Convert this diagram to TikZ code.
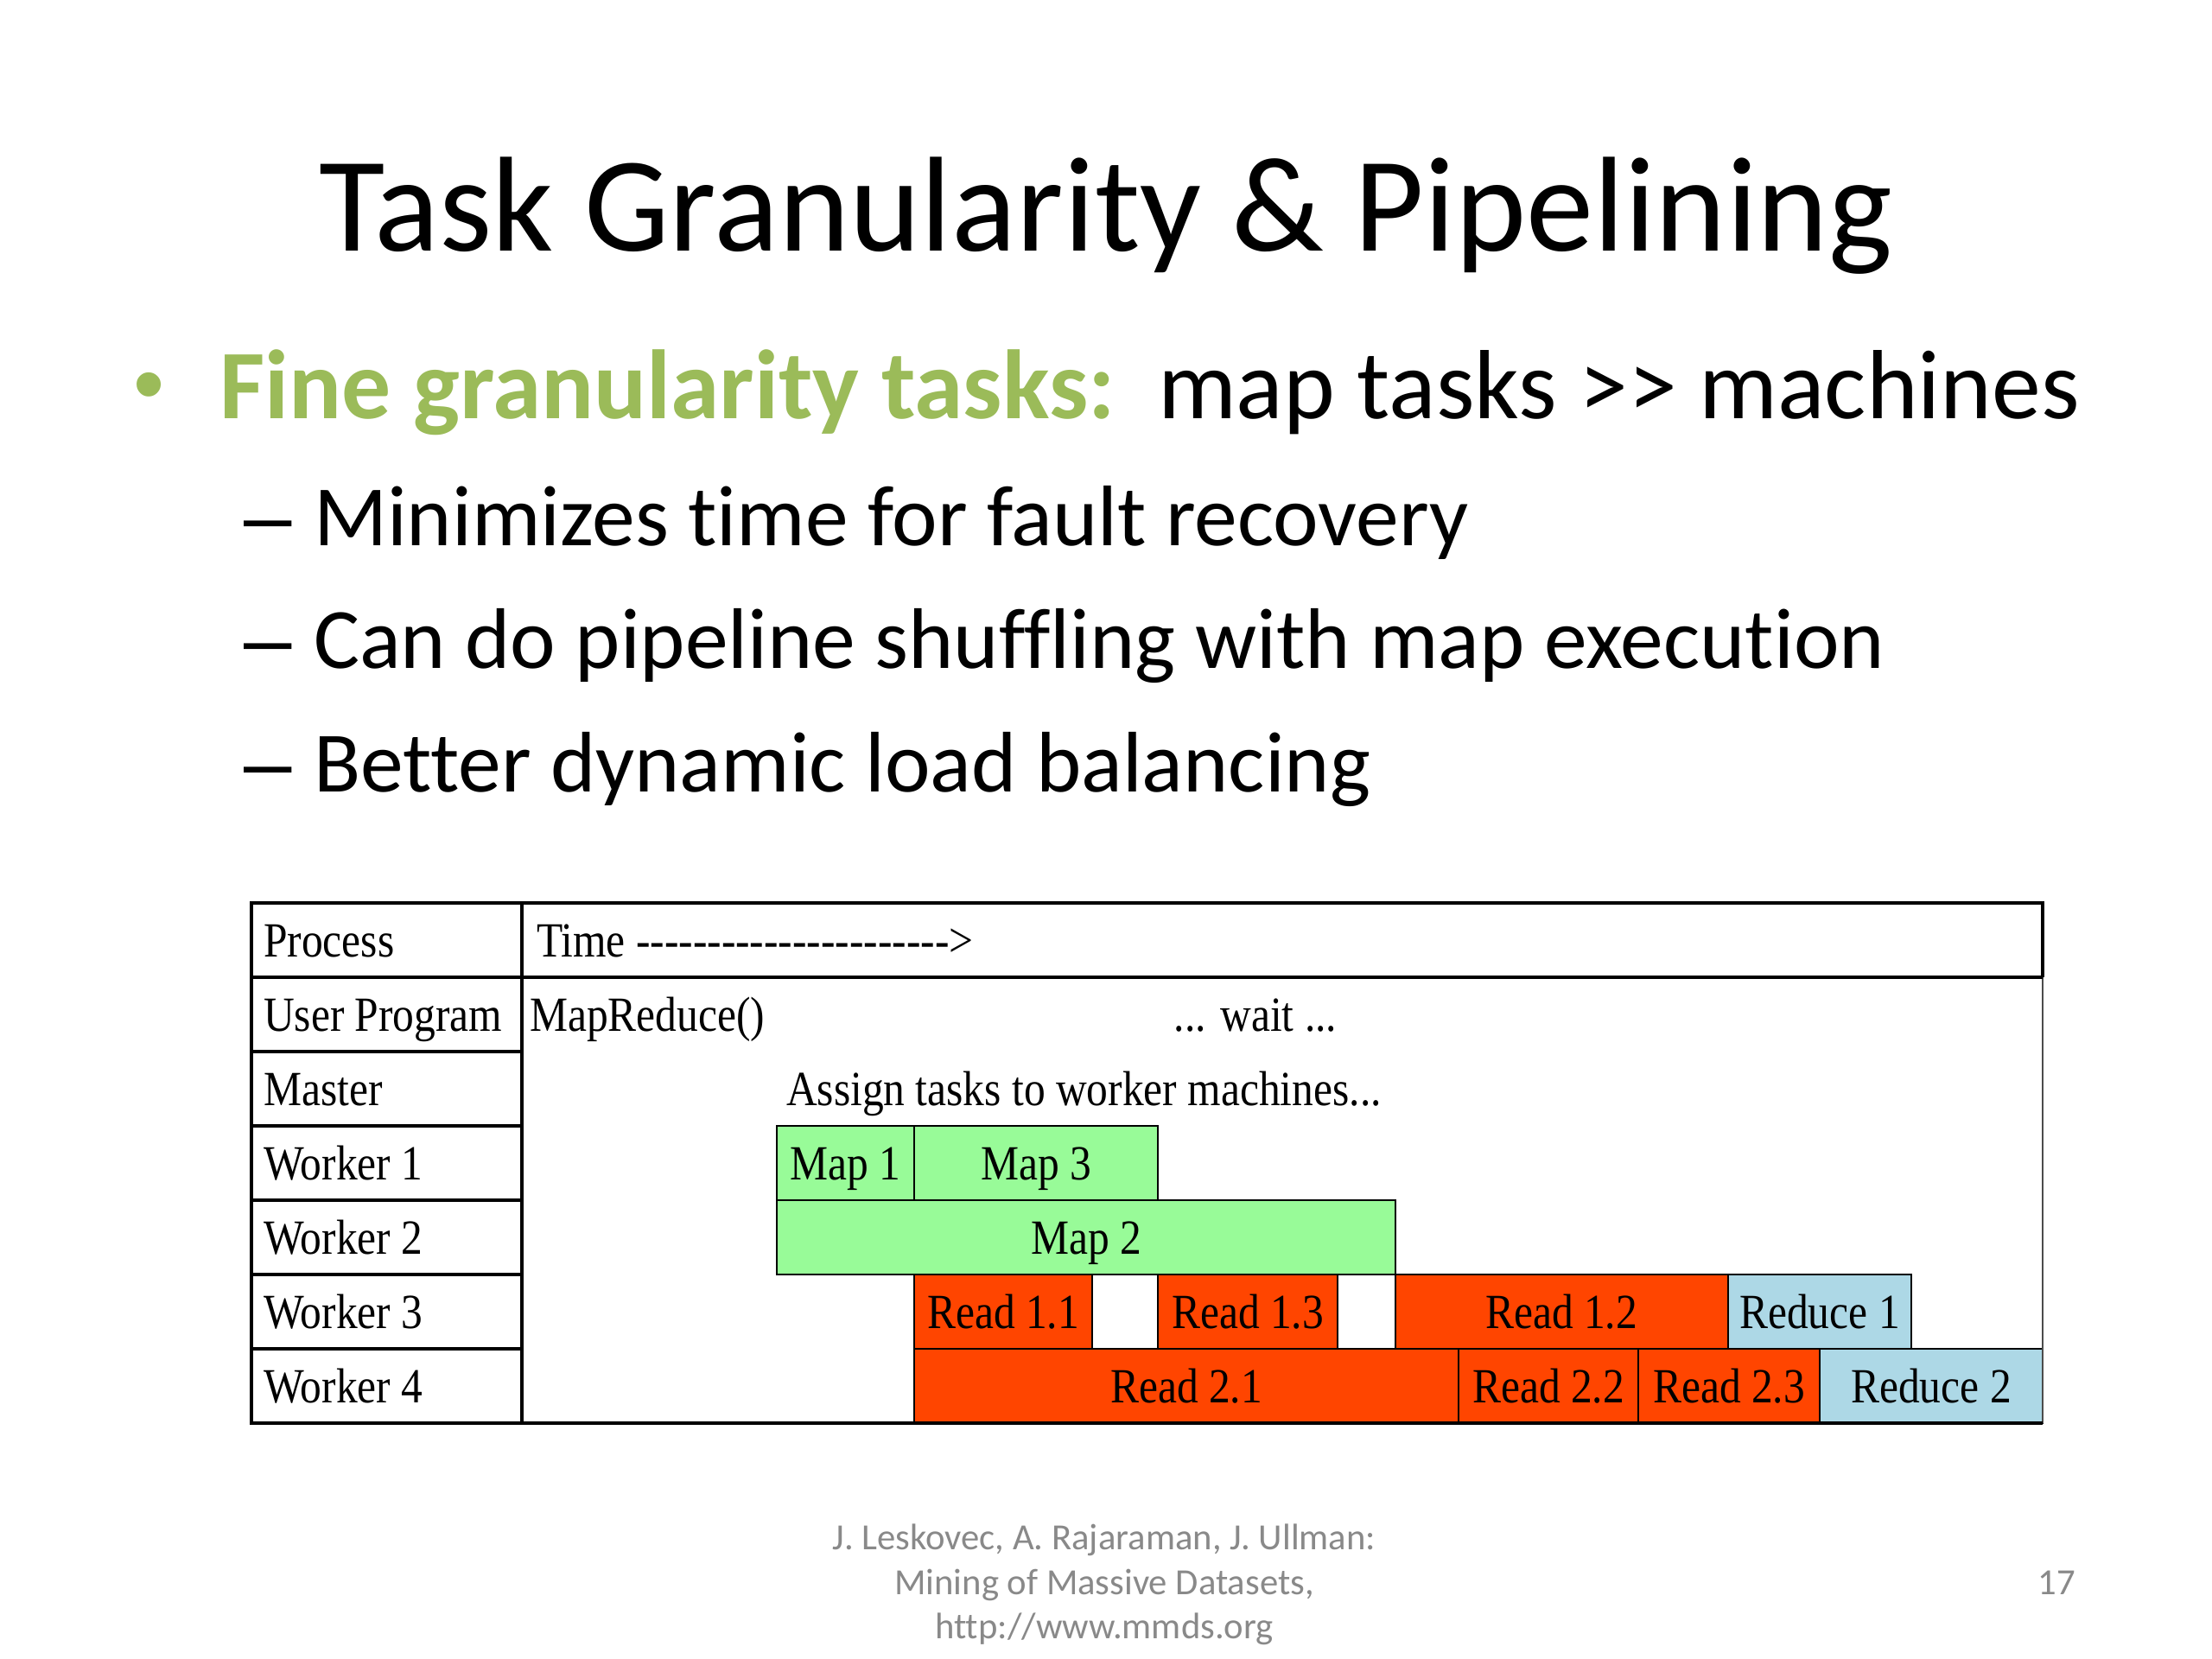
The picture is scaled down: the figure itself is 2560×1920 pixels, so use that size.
\documentclass[tikz,border=0pt]{standalone}
\usepackage{fontspec}
\setmainfont{Carlito}[Ligatures={TeXOff,NoCommon}]
\newfontfamily\markfont{Liberation Sans}
\newfontfamily\tablefont{Liberation Serif}[FakeStretch=0.87,Ligatures=TeXOff]

\definecolor{fineGreen}{RGB}{155,187,89}
\definecolor{footGray}{RGB}{137,137,137}
\definecolor{mapGreen}{RGB}{152,251,152}
\definecolor{readRed}{RGB}{255,69,0}
\definecolor{reduceBlue}{RGB}{173,216,230}

\tikzset{
  slidetext/.style={anchor=base west, inner sep=0pt},
  cell/.style={anchor=base west, inner sep=0pt, font=\tablefont\fontsize{16}{19}\selectfont},
  tasktext/.style={anchor=base, inner sep=0pt, font=\tablefont\fontsize{16}{19}\selectfont},
  footer/.style={anchor=base, inner sep=0pt, text=footGray, font=\fontsize{12}{14}\selectfont},
}

\begin{document}
\begin{tikzpicture}[x=0.28125pt,y=-0.28125pt, line width=0.6pt]
\useasboundingbox[fill=white] (0,0) rectangle (2560,1920);

% =========================
% title and bullets
% =========================
\node[anchor=base, inner sep=0pt, font=\fontsize{44}{53}\selectfont] (title) at (1280,291) {Task Granularity \& Pipelining};

\node[anchor=base, inner sep=0pt, text=fineGreen, font=\markfont\fontsize{29}{34}\selectfont] (dot) at (173,480) {•};
\node[slidetext, text=fineGreen, font=\fontsize{32}{38}\selectfont\bfseries] (fine) at (253,485) {Fine granularity tasks:};
\node[slidetext, font=\fontsize{32}{38}\selectfont] (ratio) at (1339,485) {map tasks >> machines};

\node[slidetext, font=\markfont\fontsize{28}{34}\selectfont] (dash1) at (281,632) {–};
\node[slidetext, font=\fontsize{28}{34}\selectfont] (sub1) at (362,632) {Minimizes time for fault recovery};
\node[slidetext, font=\markfont\fontsize{28}{34}\selectfont] (dash2) at (281,774) {–};
\node[slidetext, font=\fontsize{28}{34}\selectfont] (sub2) at (362,774) {Can do pipeline shuffling with map execution};
\node[slidetext, font=\markfont\fontsize{28}{34}\selectfont] (dash3) at (281,916) {–};
\node[slidetext, font=\fontsize{28}{34}\selectfont] (sub3) at (362,916) {Better dynamic load balancing};

% =========================
% timeline table
% =========================
% map tasks
\draw[fill=mapGreen] (899,1303) rectangle (1058,1389);
\node[tasktext] (map1) at (978,1365) {Map 1};
\draw[fill=mapGreen] (1058,1303) rectangle (1340,1389);
\node[tasktext] (map3) at (1199,1365) {Map 3};
\draw[fill=mapGreen] (899,1389) rectangle (1615,1475);
\node[tasktext] (map2) at (1257,1451) {Map 2};

% reads and reduce on worker 3
\draw[fill=readRed] (1058,1475) rectangle (1264,1561);
\node[tasktext] (read11) at (1161,1537) {Read 1.1};
\draw[fill=readRed] (1340,1475) rectangle (1548,1561);
\node[tasktext] (read13) at (1444,1537) {Read 1.3};
\draw[fill=readRed] (1615,1475) rectangle (2000,1561);
\node[tasktext] (read12) at (1807,1537) {Read 1.2};
\draw[fill=reduceBlue] (2000,1475) rectangle (2212,1561);
\node[tasktext] (reduce1) at (2106,1537) {Reduce 1};

% reads and reduce on worker 4
\draw[fill=readRed] (1058,1561) rectangle (1688,1647);
\node[tasktext] (read21) at (1373,1623) {Read 2.1};
\draw[fill=readRed] (1688,1561) rectangle (1896,1647);
\node[tasktext] (read22) at (1792,1623) {Read 2.2};
\draw[fill=readRed] (1896,1561) rectangle (2106,1647);
\node[tasktext] (read23) at (2001,1623) {Read 2.3};
\draw[fill=reduceBlue] (2106,1561) rectangle (2364,1647);
\node[tasktext] (reduce2) at (2235,1623) {Reduce 2};

% frame
\draw[line width=0.5pt, black!70] (2364,1131) -- (2364,1647);
\draw[line width=1.1pt] (2364,1131) -- (2364,1045) -- (291,1045) -- (291,1647) -- (2364,1647);
\draw[line width=1.1pt] (291,1131) -- (2364,1131);
\draw[line width=1.1pt] (604,1045) -- (604,1647);
\draw[line width=1.1pt] (291,1217) -- (604,1217);
\draw[line width=1.1pt] (291,1303) -- (604,1303);
\draw[line width=1.1pt] (291,1389) -- (604,1389);
\draw[line width=1.1pt] (291,1475) -- (604,1475);
\draw[line width=1.1pt] (291,1561) -- (604,1561);

% process labels
\node[cell] (process) at (304,1107) {Process};
\node[cell] (user) at (304,1193) {User Program};
\node[cell] (master) at (304,1279) {Master};
\node[cell] (worker1) at (304,1365) {Worker 1};
\node[cell] (worker2) at (304,1451) {Worker 2};
\node[cell] (worker3) at (304,1537) {Worker 3};
\node[cell] (worker4) at (304,1623) {Worker 4};

% time row texts
\node[cell] (time) at (620,1107) {Time ---------------------->};
\node[cell] (mapreduce) at (612,1193) {MapReduce()};
\node[tasktext] (wait) at (1453,1193) {... wait ...};
\node[cell] (assign) at (909,1279) {Assign tasks to worker machines...};

% =========================
% footer
% =========================
\node[footer] (cite1) at (1278,1793) {J. Leskovec, A. Rajaraman, J. Ullman:};
\node[footer] (cite2) at (1278,1845) {Mining of Massive Datasets,};
\node[footer] (cite3) at (1278,1896) {http://www.mmds.org};
\node[footer, anchor=base east] (page) at (2403,1845) {17};

\end{tikzpicture}
\end{document}
